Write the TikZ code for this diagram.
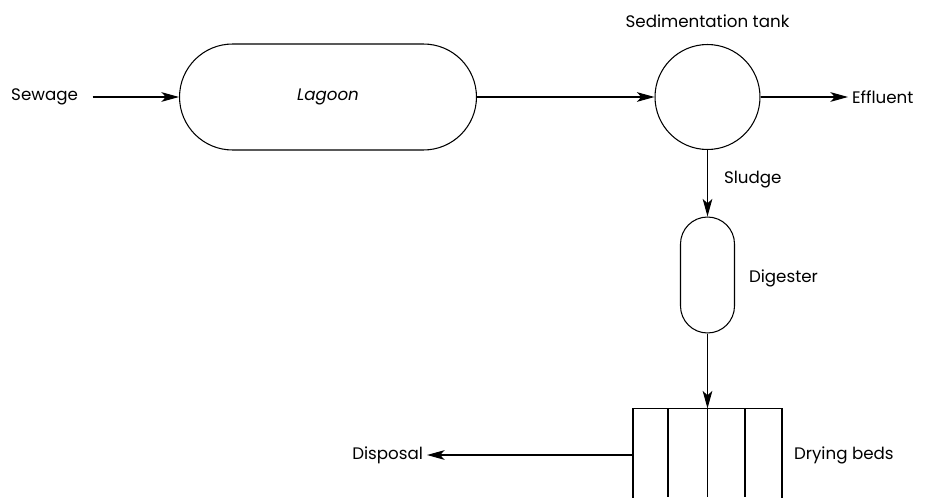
\documentclass[tikz,border=0pt]{standalone}
\usepackage{fontspec}
\setmainfont{Poppins}
\usetikzlibrary{arrows.meta, positioning}

\begin{document}
\begin{tikzpicture}[x=0.02cm, y=-0.02cm, semithick, font=\fontsize{9.5}{11}\selectfont,
	>={Stealth[length=10pt, width=5.5pt, inset=2.5pt]},
	unit/.style={draw, inner sep=0pt},
	tag/.style={inner sep=2pt}]
	% Riquadro della figura
	\useasboundingbox (0,0) rectangle (926,497);
	
	% Unita' di trattamento
	\node[unit, minimum width=5.94cm, minimum height=2.12cm, rounded corners=1.06cm] (lagoon) at (328,97) {\itshape Lagoon};
	\node[unit, circle, minimum size=2.1cm] (tank) at (707.5,97) {};
	\node[unit, minimum width=1.08cm, minimum height=2.32cm, rounded corners=0.54cm] (digester) at (707.5,275) {};
	\node[inner sep=0pt, minimum width=2.96cm, minimum height=1.76cm] (beds) at (707.5,453) {};
	
	% Letti di essiccamento (aperti in basso)
	\draw (beds.south west) -- (beds.north west) -- (beds.north east) -- (beds.south east);
	\foreach \xx in {668,707.5,745}
		\draw (\xx,409) -- (\xx,497);
	
	% Etichette
	\node[tag, anchor=east] (sewage) at (82,97) {Sewage};
	\node[tag, anchor=west] (effluent) at (848,97) {Effluent};
	\node[tag, anchor=east] (disposal) at (427,455) {Disposal};
	\node[tag, above=7pt of tank] {Sedimentation tank};
	\node[tag, anchor=west] at (720,180) {Sludge};
	\node[tag, anchor=west] at (745,278) {Digester};
	\node[tag, anchor=west] at (790,455) {Drying beds};
	
	% Flussi
	\draw[->, shorten <=6pt] (sewage) -- (lagoon);
	\draw[->] (lagoon) -- (tank);
	\draw[->] (tank) -- (effluent);
	\draw[->] (tank) -- (digester);
	\draw[->] (digester) -- (beds.north);
	\draw[->] (beds.west |- disposal) -- (disposal);
\end{tikzpicture}
\end{document}
